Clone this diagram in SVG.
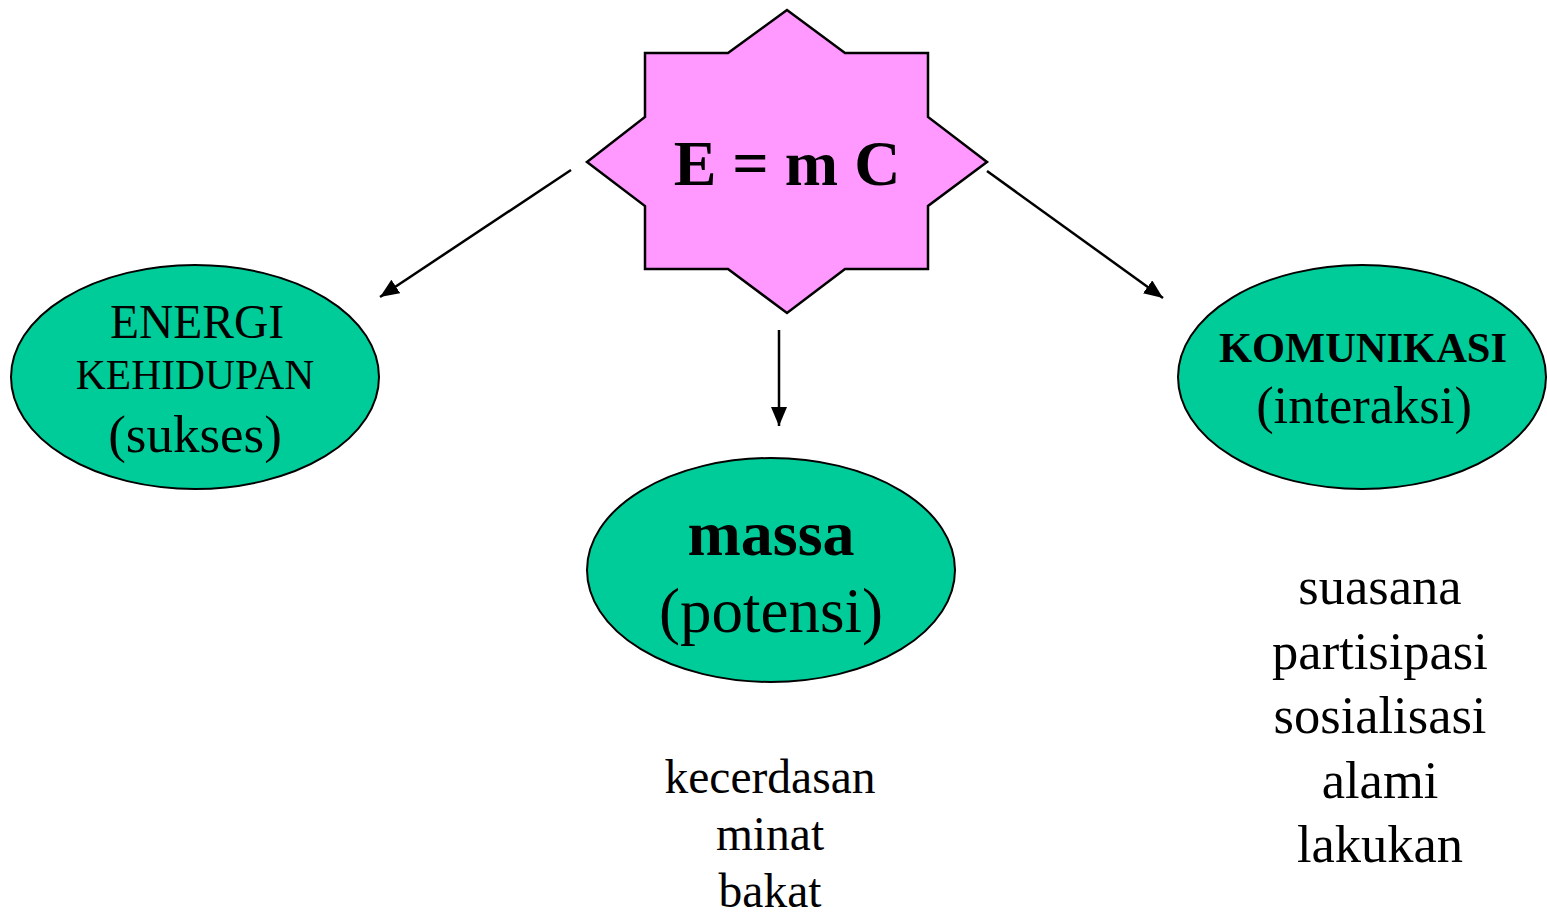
<svg xmlns="http://www.w3.org/2000/svg" width="1547" height="915" viewBox="0 0 1547 915">
<style>
.node{fill:#00CC99;stroke:#000;stroke-width:2}
.t{font-family:"Liberation Serif","Times New Roman",serif;fill:#000;text-anchor:middle}
.b{font-weight:bold}
.c{stroke:#000;stroke-width:2.5;fill:none}
</style>
<defs>
<marker id="ah" markerUnits="userSpaceOnUse" markerWidth="22" markerHeight="18" refX="19" refY="8" orient="auto">
<path d="M0,0 L19,8 L0,16 Z" fill="#000"/>
</marker>
</defs>
<rect width="1547" height="915" fill="#fff"/>
<g id="connectors">
<line class="c" x1="571" y1="170" x2="380" y2="297" marker-end="url(#ah)"/>
<line class="c" x1="987" y1="171" x2="1163" y2="298" marker-end="url(#ah)"/>
<line class="c" x1="779" y1="330" x2="779" y2="426" marker-end="url(#ah)"/>
</g>
<g id="star">
<polygon points="787,10 728,53 645,53 645,117 587,162 645,206 645,269 728,269 787,313 845,269 928,269 928,206 987,162 928,117 928,53 845,53" fill="#FF99FF" stroke="#000" stroke-width="2.5"/>
<text class="t b" x="787" y="185" font-size="64">E = m C</text>
</g>
<g id="energi">
<ellipse class="node" cx="195" cy="377" rx="184" ry="112"/>
<text class="t" x="197" y="338" font-size="47.5">ENERGI</text>
<text class="t" x="195" y="389" font-size="41.5">KEHIDUPAN</text>
<text class="t" x="195" y="452" font-size="53">(sukses)</text>
</g>
<g id="massa">
<ellipse class="node" cx="771" cy="570" rx="184" ry="112"/>
<text class="t b" x="771" y="555" font-size="64">massa</text>
<text class="t" x="771" y="632" font-size="63">(potensi)</text>
</g>
<g id="komunikasi">
<ellipse class="node" cx="1362" cy="377" rx="184" ry="112"/>
<text class="t b" x="1363" y="362" font-size="42.5">KOMUNIKASI</text>
<text class="t" x="1364" y="423" font-size="52.5">(interaksi)</text>
</g>
<g id="massa-list">
<text class="t" x="770" y="793" font-size="47.5">kecerdasan</text>
<text class="t" x="770" y="850" font-size="47.5">minat</text>
<text class="t" x="770" y="907" font-size="47.5">bakat</text>
</g>
<g id="komunikasi-list">
<text class="t" x="1380" y="604" font-size="52.5">suasana</text>
<text class="t" x="1380" y="669" font-size="52.5">partisipasi</text>
<text class="t" x="1380" y="733" font-size="52.5">sosialisasi</text>
<text class="t" x="1380" y="798" font-size="52.5">alami</text>
<text class="t" x="1380" y="862" font-size="52.5">lakukan</text>
</g>
</svg>
